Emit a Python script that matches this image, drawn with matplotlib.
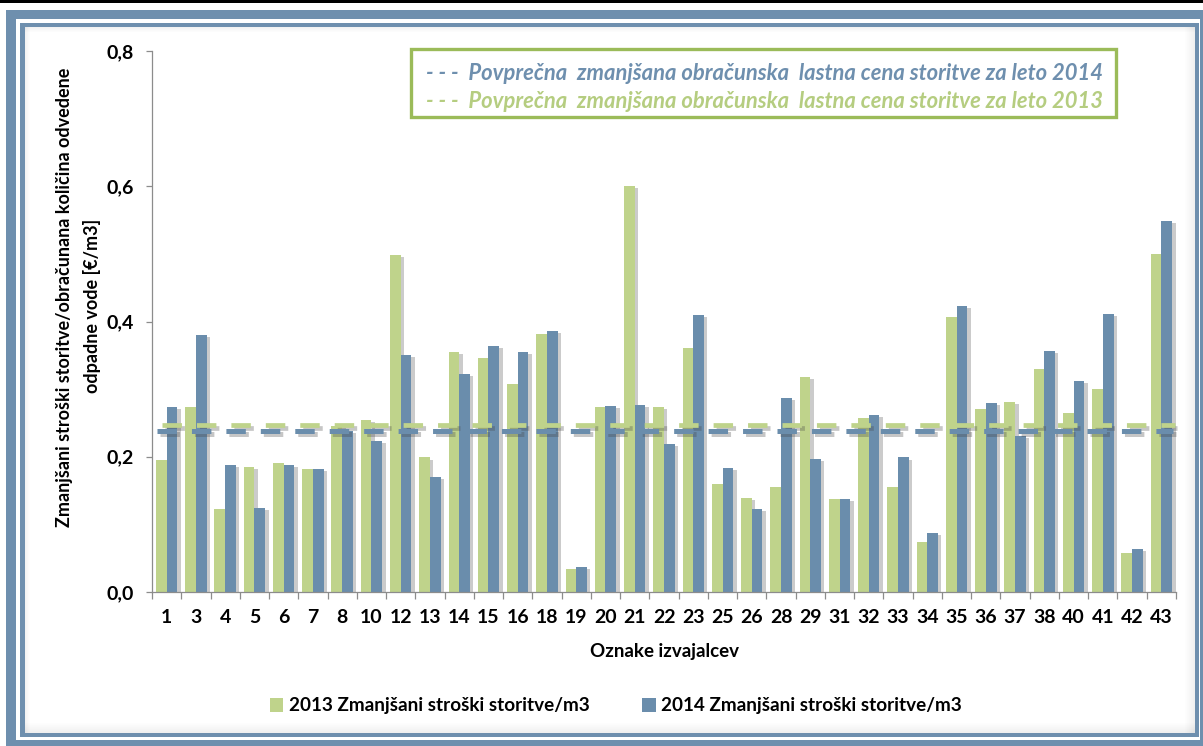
#!/usr/bin/env python3

import numpy as np
import matplotlib
matplotlib.use("Agg")
import matplotlib.pyplot as plt
import matplotlib.patheffects as pe
from matplotlib.patches import Rectangle, Patch
from matplotlib.ticker import FuncFormatter, FixedLocator

# provider codes on the x axis
providers = ["1", "3", "4", "5", "6", "7", "8", "10", "12", "13", "14", "15", "16",
             "18", "19", "20", "21", "22", "23", "25", "26", "28", "29", "31", "32",
             "33", "34", "35", "36", "37", "38", "40", "41", "42", "43"]

# reduced cost of service per m3 (EUR/m3)
cost_2013 = [0.195, 0.274, 0.123, 0.185, 0.191, 0.182, 0.245, 0.254, 0.498, 0.199,
             0.355, 0.346, 0.308, 0.381, 0.034, 0.274, 0.600, 0.274, 0.361, 0.160,
             0.139, 0.155, 0.318, 0.137, 0.257, 0.155, 0.074, 0.407, 0.271, 0.281,
             0.330, 0.265, 0.300, 0.058, 0.500]
cost_2014 = [0.274, 0.380, 0.188, 0.124, 0.188, 0.182, 0.238, 0.223, 0.350, 0.170,
             0.322, 0.364, 0.355, 0.386, 0.037, 0.275, 0.277, 0.219, 0.410, 0.184,
             0.123, 0.287, 0.197, 0.138, 0.262, 0.199, 0.087, 0.423, 0.279, 0.231,
             0.357, 0.312, 0.411, 0.064, 0.548]

# average reduced cost price per year
avg_2014 = 0.238
avg_2013 = 0.247

yticks = [0.0, 0.2, 0.4, 0.6, 0.8]

GREEN = "#bfd38b"
BLUE = "#6a8dac"
FRAME = "#6e8fae"
BOX_GREEN = "#9bbb59"

W, H = 1203, 746
plt.rcParams["font.family"] = ["Lato", "DejaVu Sans"]
plt.rcParams["lines.scale_dashes"] = False

fig = plt.figure(figsize=(W / 100, H / 100), dpi=100)
fig.patch.set_facecolor("white")


def px_rect(x0, y0, x1, y1, **kw):
    # rectangle in pixel coords with origin at top left
    r = Rectangle((x0 / W, 1 - y1 / H), (x1 - x0) / W, (y1 - y0) / H,
                  transform=fig.transFigure, **kw)
    fig.add_artist(r)
    return r


# frame around the chart
px_rect(0, 0, W, 3, facecolor="black", edgecolor="none", zorder=-20)
px_rect(6, 10, W, H, facecolor=FRAME, edgecolor="none", zorder=-20)
px_rect(16, 19, 1200, 740, facecolor="white", edgecolor="none", zorder=-19)
px_rect(20, 23, 1199, 737, facecolor=FRAME, edgecolor="none", zorder=-18)
px_rect(25, 27, 1195, 733, facecolor="white", edgecolor="none", zorder=-17)
# soft inner shadow on right/bottom/top edges
for i in range(10):
    a = 0.06 * (10 - i) / 10
    px_rect(1195 - i - 1, 27, 1195 - i, 733, facecolor="black", alpha=a,
            edgecolor="none", zorder=-16)
    px_rect(25, 733 - i - 1, 1195, 733 - i, facecolor="black", alpha=a,
            edgecolor="none", zorder=-16)
for i in range(5):
    a = 0.05 * (5 - i) / 5
    px_rect(25, 27 + i, 1195, 28 + i, facecolor="black", alpha=a,
            edgecolor="none", zorder=-16)
    px_rect(25 + i, 27, 26 + i, 733, facecolor="black", alpha=a,
            edgecolor="none", zorder=-16)

ax = fig.add_axes([152 / W, 1 - 592 / H, 1024 / W, 541 / H])
ax.set_facecolor("none")

x = np.arange(len(providers))
w = 0.365
shadow = [pe.SimplePatchShadow(offset=(2.5, -1.5), shadow_rgbFace="#555555", alpha=0.3),
          pe.Normal()]
ax.bar(x - w / 2, cost_2013, w, color=GREEN, zorder=2, path_effects=shadow)
ax.bar(x + w / 2, cost_2014, w, color=BLUE, zorder=2, path_effects=shadow)

ax.set_xlim(-0.5, len(providers) - 0.5)
ax.set_ylim(0, 0.8)

# dashed average lines
line_shadow = [pe.SimpleLineShadow(offset=(2, -2), shadow_color="#444444", alpha=0.3),
               pe.Normal()]
x0, x1 = ax.get_xlim()
ax.plot([x0 + 0.35, x1 - 0.05], [avg_2013, avg_2013], color=GREEN, lw=3.4,
        ls=(0, (14, 10.8)), solid_capstyle="butt", dash_capstyle="butt",
        zorder=3, clip_on=False, path_effects=line_shadow)
ax.plot([x0 + 0.17, x1 - 0.1], [avg_2014, avg_2014], color=BLUE, lw=3.6,
        ls=(0, (14, 10.8)), solid_capstyle="butt", dash_capstyle="butt",
        zorder=4, clip_on=False, path_effects=line_shadow)

# axes styling
for s in ["top", "right"]:
    ax.spines[s].set_visible(False)
for s in ["left", "bottom"]:
    ax.spines[s].set_color("#8c8c8c")
    ax.spines[s].set_linewidth(0.9)

ax.set_yticks(yticks)
ax.yaxis.set_major_formatter(FuncFormatter(lambda v, p: f"{v:.1f}".replace(".", ",")))
ax.tick_params(axis="y", length=4, width=0.9, color="#8c8c8c", pad=9,
               labelsize=14, labelcolor="black")
for t in ax.get_yticklabels():
    t.set_fontweight("bold")

ax.xaxis.set_major_locator(FixedLocator(np.arange(len(providers) + 1) - 0.5))
ax.xaxis.set_minor_locator(FixedLocator(x))
ax.set_xticklabels([], minor=False)
ax.set_xticklabels(providers, minor=True)
ax.tick_params(axis="x", which="major", length=5, width=0.9, color="#8c8c8c")
ax.tick_params(axis="x", which="minor", length=0, pad=12, labelsize=14)
for t in ax.get_xticklabels(minor=True):
    t.set_fontweight("bold")

# axis titles
fig.text(65 / W, 1 - 297 / H,
         "Zmanjšani stroški storitve/obračunana količina odvedene",
         rotation=90, ha="center", va="center", fontsize=13, fontweight="bold")
fig.text(92 / W, 1 - 306 / H, "odpadne vode [€/m3]",
         rotation=90, ha="center", va="center", fontsize=13, fontweight="bold")
fig.text(664 / W, 1 - 651 / H, "Oznake izvajalcev", ha="center", va="center",
         fontsize=13.5, fontweight="bold")

# boxed legend for average lines
px_rect(411, 49, 1116, 117, facecolor="white", edgecolor=BOX_GREEN, lw=2.4, zorder=5)
fig.text(426 / W, 1 - 74 / H,
         "- - -  Povprečna  zmanjšana obračunska  lastna cena storitve za leto 2014",
         ha="left", va="center", fontsize=15.8, fontweight="bold", style="italic",
         color="#6e8fae", zorder=6)
fig.text(426 / W, 1 - 101 / H,
         "- - -  Povprečna  zmanjšana obračunska  lastna cena storitve za leto 2013",
         ha="left", va="center", fontsize=15.8, fontweight="bold", style="italic",
         color="#b5cd80", zorder=6)

# series legend at the bottom
handles = [Patch(facecolor=GREEN, label="2013 Zmanjšani stroški storitve/m3"),
           Patch(facecolor=BLUE, label="2014 Zmanjšani stroški storitve/m3")]
leg = fig.legend(handles=handles, loc="center", bbox_to_anchor=(616 / W, 1 - 706 / H),
                 ncol=2, frameon=False, handlelength=0.7, handleheight=0.7,
                 handletextpad=0.3, columnspacing=2.8,
                 prop={"size": 13.6, "weight": "bold"})

fig.savefig("out.png", dpi=100)
